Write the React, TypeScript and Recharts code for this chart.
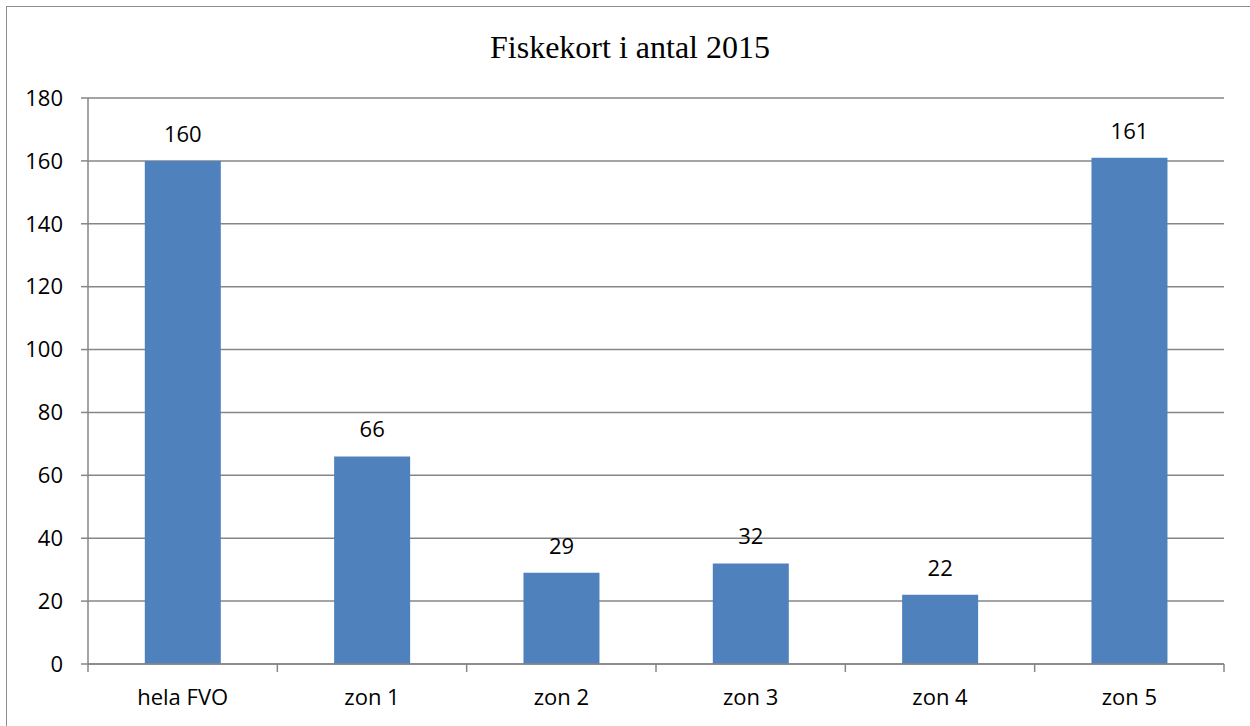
import React from "react";
import { BarChart, Bar, XAxis, YAxis, CartesianGrid, LabelList } from "recharts";

const CATEGORIES = ["hela FVO", "zon 1", "zon 2", "zon 3", "zon 4", "zon 5"];
const VALUES = [160, 66, 29, 32, 22, 161];
const Y_TICKS = [0, 20, 40, 60, 80, 100, 120, 140, 160, 180];

const FONT = "'Open Sans', 'Liberation Sans', sans-serif";
const GRID = "#868686";

const data = CATEGORIES.map((name, i) => ({ name, value: VALUES[i] }));

function CategoryTick(props: any) {
  const { x, y, payload, index } = props;
  const half = payload?.offset ?? 94.7;
  const axisY = y - 8;
  return (
    <g>
      <line x1={x - half} y1={axisY} x2={x - half} y2={axisY + 8} stroke={GRID} strokeWidth={1.5} />
      {index === CATEGORIES.length - 1 && (
        <line x1={x + half} y1={axisY} x2={x + half} y2={axisY + 8} stroke={GRID} strokeWidth={1.5} />
      )}
      <text x={x} y={axisY + 41} textAnchor="middle" fontFamily={FONT} fontSize={22} fill="#000">
        {payload.value}
      </text>
    </g>
  );
}

export default function App() {
  return (
    <div style={{ position: "absolute", left: 0, top: 0, width: 1250, height: 726, background: "#fff" }}>
      <div
        style={{
          position: "absolute",
          left: 6,
          top: 6,
          width: 1260,
          height: 740,
          border: "1.5px solid #8c8c8c",
        }}
      />
      <div
        style={{
          position: "absolute",
          left: 0,
          width: 1260,
          top: 28,
          lineHeight: "38px",
          textAlign: "center",
          fontFamily: "'Liberation Serif', 'Times New Roman', serif",
          fontSize: 32,
          color: "#000",
        }}
      >
        Fiskekort i antal 2015
      </div>
      <div style={{ position: "absolute", left: 0, top: 0 }}>
        <BarChart
          width={1250}
          height={726}
          data={data}
          margin={{ top: 98, right: 26, bottom: 62 - 40, left: 28 }}
          barCategoryGap="30%"
        >
          <CartesianGrid vertical={false} stroke={GRID} strokeWidth={1.5} />
          <XAxis
            dataKey="name"
            height={40}
            tickLine={false}
            axisLine={{ stroke: GRID, strokeWidth: 1.5 }}
            tickSize={8}
            tickMargin={0}
            tick={<CategoryTick />}
            interval={0}
          />
          <YAxis
            width={60}
            domain={[0, 180]}
            ticks={Y_TICKS}
            interval={0}
            tickSize={7}
            tickMargin={18}
            axisLine={{ stroke: GRID, strokeWidth: 1.5 }}
            tickLine={{ stroke: GRID, strokeWidth: 1.5 }}
            tick={{ fontFamily: FONT, fontSize: 22, fill: "#000" }}
          />
          <Bar dataKey="value" fill="#4F81BD" isAnimationActive={false}>
            <LabelList
              dataKey="value"
              position="top"
              offset={19}
              style={{ fontFamily: FONT, fontSize: 22, fill: "#000" }}
            />
          </Bar>
        </BarChart>
      </div>
    </div>
  );
}
